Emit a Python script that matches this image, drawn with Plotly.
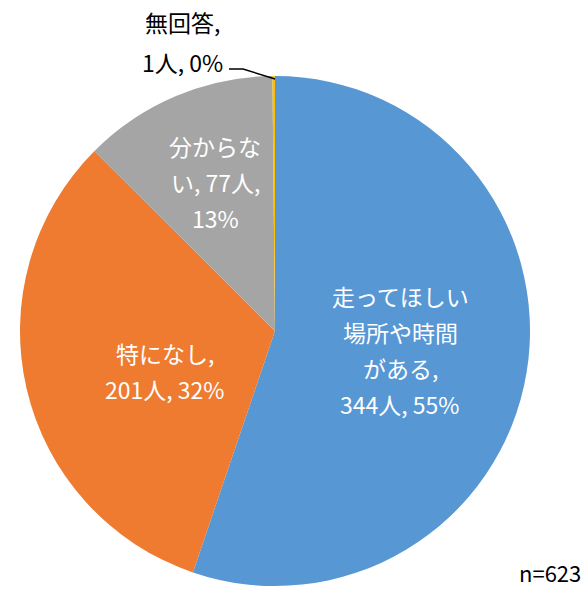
import plotly.graph_objects as go

# ---- data ----
categories = ["走ってほしい場所や時間がある", "特になし", "分からない", "無回答"]
counts = [344, 201, 77, 1]
percents = [55, 32, 13, 0]
colors = ["#5797D4", "#EE7B2F", "#A5A5A5", "#FFC000"]
# how each category label is wrapped in the chart
label_lines = [
    ["走ってほしい", "場所や時間", "がある,", "{n}人, {p}%"],
    ["特になし,", "{n}人, {p}%"],
    ["分からな", "い, {n}人,", "{p}%"],
    ["無回答,", "{n}人, {p}%"],
]
total_label = "n=623"

W, H = 585, 593

fig = go.Figure(go.Pie(
    labels=categories,
    values=counts,
    sort=False,
    direction="clockwise",
    rotation=0,
    marker=dict(colors=colors, line=dict(width=0)),
    textinfo="none",
    hoverinfo="label+value+percent",
    domain=dict(x=[20 / W, 530 / W], y=[1 - 586 / H, 1 - 76 / H]),
    showlegend=False,
))

# label placement (pixel centres of first line, line step, color)
placements = [
    (400, 296, 36, "white"),
    (165, 353, 36, "white"),
    (215, 146, 36, "white"),
    (182, 22, 40, "black"),
]
annotations = []
for lines, n, p, (px, py, step, col) in zip(label_lines, counts, percents, placements):
    for i, ln in enumerate(lines):
        annotations.append(dict(
            x=px / W, y=1 - (py + i * step) / H, xref="paper", yref="paper",
            text=ln.format(n=n, p=p), showarrow=False,
            font=dict(size=23, color=col, family="Noto Sans CJK JP"),
            xanchor="center", yanchor="middle",
        ))
annotations.append(dict(
    x=583 / W, y=1 - 572 / H, xref="paper", yref="paper", text=total_label,
    showarrow=False, xanchor="right", yanchor="middle",
    font=dict(size=22, color="black", family="Noto Sans CJK JP"),
))

fig.update_layout(
    width=W, height=H,
    margin=dict(l=0, r=0, t=0, b=0),
    paper_bgcolor="white", plot_bgcolor="white",
    annotations=annotations,
    shapes=[dict(
        type="path", xref="paper", yref="paper",
        path=f"M {229/W},{1-69/H} L {243/W},{1-69/H} L {275/W},{1-79/H}",
        line=dict(color="black", width=1.5),
    )],
)

fig.write_html(
    "out.html",
    config={"displayModeBar": False},
    post_script="document.body.style.margin='0';document.body.style.overflow='hidden';",
)
